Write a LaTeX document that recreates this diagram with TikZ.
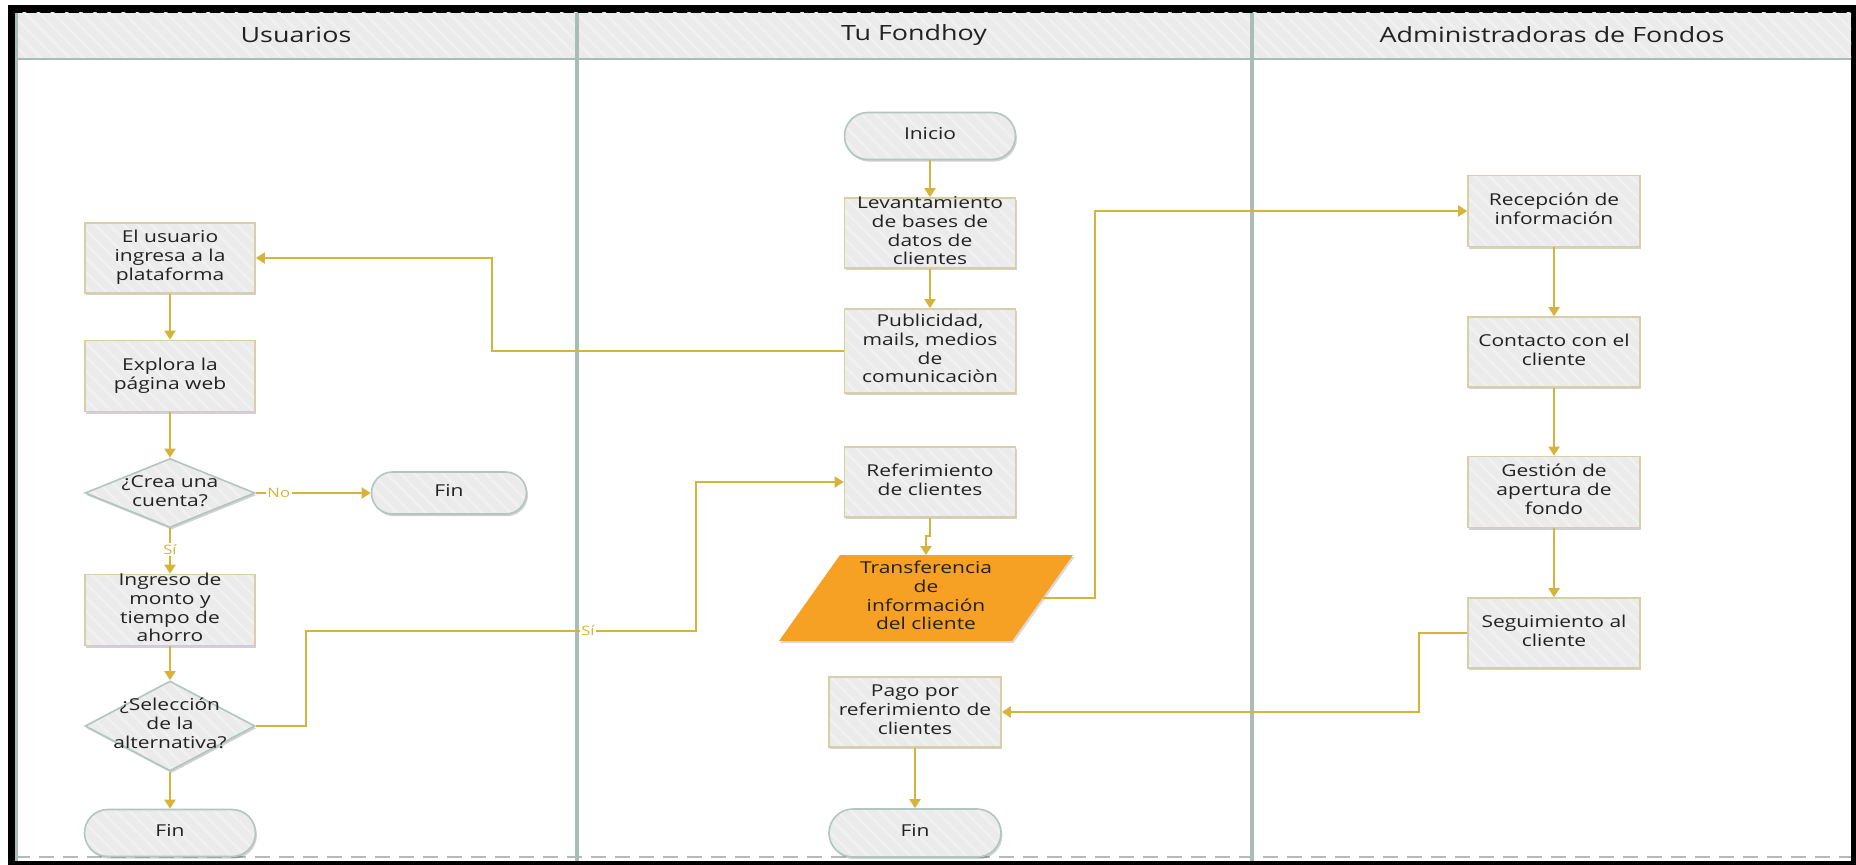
\documentclass[tikz,border=0pt]{standalone}
\usepackage{fontspec}
\setmainfont{Open Sans}[FakeStretch=1.28]
\usetikzlibrary{shapes.geometric,shapes.misc,arrows.meta,patterns.meta,shadows}
\definecolor{gold}{HTML}{D6B43C}
\definecolor{boxfill}{HTML}{EBEBEB}
\definecolor{boxline}{HTML}{D8CFA6}
\definecolor{sage}{HTML}{B2C5BE}
\definecolor{laneline}{HTML}{A8BDB6}
\definecolor{orangefill}{HTML}{F6A024}
\definecolor{stripe}{HTML}{F1F1F1}
\definecolor{txt}{HTML}{222222}
\definecolor{dashgray}{HTML}{B8B8B8}
\newcommand{\ztx}[1]{\makebox[0pt]{\raisebox{-2pt}[0pt][0pt]{\begin{tabular}{@{}c@{}}#1\end{tabular}}}}
\begin{document}
\begin{tikzpicture}[x=0.5pt,y=-0.5pt,
  softshadow/.style={drop shadow={shadow xshift=0.7pt,shadow yshift=-1.1pt,fill=black,opacity=0.18}},
  hatchfill/.style={preaction={fill=boxfill}, preaction={pattern={Lines[angle=-45,distance=5pt,line width=1.2pt]},pattern color=stripe}},
  nodetext/.style={inner sep=0pt, font=\fontsize{8.2}{9.4}\selectfont, text=txt},
  procbox/.style={rectangle, softshadow, hatchfill, draw=boxline, line width=0.8pt, nodetext, minimum width=85.5pt, minimum height=35pt},
  termbox/.style={rounded rectangle, softshadow, hatchfill, draw=sage, line width=0.8pt, nodetext, minimum width=85.5pt, minimum height=23.5pt},
  decbox/.style={diamond, softshadow, hatchfill, draw=sage, line width=0.8pt, nodetext, minimum width=85pt},
  iobox/.style={rectangle, nodetext, minimum width=117pt, minimum height=42.5pt},
  lanehead/.style={inner sep=0pt, font=\fontsize{10.5}{12}\selectfont, text=txt},
  arr/.style={draw=gold, line width=0.95pt, -{Triangle[width=5.5pt,length=4.5pt]}},
  lbl/.style={font=\fontsize{6.5}{7}\selectfont, text=gold, fill=white, inner sep=0.8pt}
]
\useasboundingbox (0,0) rectangle (1856,865);
\fill[white] (0,0) rectangle (1856,865);
\fill[black] (8,5) rectangle (1856,865);
\fill[white] (15,13) rectangle (1851,861);
% header band
\fill[boxfill] (15,13) rectangle (1851,59);
\fill[pattern={Lines[angle=-45,distance=5pt,line width=1.2pt]},pattern color=stripe] (15,13) rectangle (1851,59);
\draw[laneline, line width=1.4pt] (15,59) -- (1851,59);
\draw[dashgray, line width=1pt, dash pattern=on 7.5pt off 4.5pt] (15,857) -- (1851,857);
\draw[laneline, line width=1.5pt] (16.5,13) -- (16.5,861);
\draw[laneline, line width=1.8pt] (577,13) -- (577,861);
\draw[laneline, line width=1.8pt] (1252,13) -- (1252,861);
\node[lanehead] (h1) at (296,35) {Usuarios};
\node[lanehead] (h2) at (914,35) {Tu Fondhoy};
\node[lanehead] (h3) at (1552,35) {Administradoras de Fondos};

% lane 1
\node[procbox, minimum width=85pt] (usu) at (170,258) {\ztx{El usuario\\ingresa a la\\plataforma}};
\node[procbox, minimum width=85pt, minimum height=35.5pt] (exp) at (170,376) {\ztx{Explora la\\página web}};
\node[decbox, minimum height=34.5pt] (crea) at (170,493) {\ztx{¿Crea una\\cuenta?}};
\node[termbox, minimum width=77.5pt, minimum height=21pt] (fin1) at (449,493) {\ztx{Fin}};
\node[procbox, minimum width=85pt, minimum height=35.5pt] (ing) at (170,610) {\ztx{Ingreso de\\monto y\\tiempo de\\ahorro}};
\node[decbox, minimum height=45pt] (sel) at (170,726) {\ztx{¿Selección\\de la\\alternativa?}};
\node[termbox] (fin2) at (170,833) {\ztx{Fin}};

% lane 2
\node[termbox] (ini) at (930,136) {\ztx{Inicio}};
\node[procbox] (lev) at (930,233) {\ztx{Levantamiento\\de bases de\\datos de\\clientes}};
\node[procbox, minimum height=42pt] (pub) at (930,351) {\ztx{Publicidad,\\mails, medios\\de\\comunicaciòn}};
\node[procbox] (ref) at (930,482) {\ztx{Referimiento\\de clientes}};
\coordinate (tc) at (926,598);
\fill[orangefill, drop shadow={shadow xshift=0.7pt,shadow yshift=-1.1pt,fill=black,opacity=0.15}]
  ([shift={(-147,43)}]tc) -- ([shift={(-86,-43)}]tc) -- ([shift={(147,-43)}]tc) -- ([shift={(86,43)}]tc) -- cycle;
\node[iobox] (trans) at (tc) {\ztx{Transferencia\\de\\información\\del cliente}};
\node[procbox, minimum width=86pt] (pago) at (915,712) {\ztx{Pago por\\referimiento de\\clientes}};
\node[termbox, minimum width=86pt, minimum height=24pt] (fin3) at (915,833) {\ztx{Fin}};

% lane 3
\node[procbox, minimum width=86pt, minimum height=35.5pt] (rec) at (1554,211) {\ztx{Recepción de\\información}};
\node[procbox, minimum width=86pt] (con) at (1554,352) {\ztx{Contacto con el\\cliente}};
\node[procbox, minimum width=86pt, minimum height=35.5pt] (ges) at (1554,492) {\ztx{Gestión de\\apertura de\\fondo}};
\node[procbox, minimum width=86pt] (seg) at (1554,633) {\ztx{Seguimiento al\\cliente}};

% junction x positions
\coordinate (j1) at (492,0);
\coordinate (j2) at (306,631);
\coordinate (j3) at (696,631);
\coordinate (j4) at (1095,0);
\coordinate (j5) at (1419,0);

% connectors
\draw[arr] (usu) -- (exp);
\draw[arr] (exp) -- (crea);
\draw[arr] (crea.east) -- node[lbl, pos=0.2] {No} (fin1.west);
\draw[arr] (crea.south) -- node[lbl, pos=0.47] {Sí} (ing.north);
\draw[arr] (ing) -- (sel);
\draw[arr] (sel) -- (fin2);
\draw[arr] (sel.east) -| (j2) -- node[lbl, pos=0.723] {Sí} (j3) |- (ref.west);
\draw[arr] (ini) -- (lev);
\draw[arr] (lev) -- (pub);
\draw[arr] (pub.west) -- (pub.west -| j1) |- (usu.east);
\draw[arr] (ref.south) -- ++(0,18) -| (trans.north);
\draw[arr] (trans.east) -- (trans.east -| j4) |- (rec.west);
\draw[arr] (pago) -- (fin3);
\draw[arr] (rec) -- (con);
\draw[arr] (con) -- (ges);
\draw[arr] (ges) -- (seg);
\draw[arr] (seg.west) -- (seg.west -| j5) |- (pago.east);
\end{tikzpicture}
\end{document}
